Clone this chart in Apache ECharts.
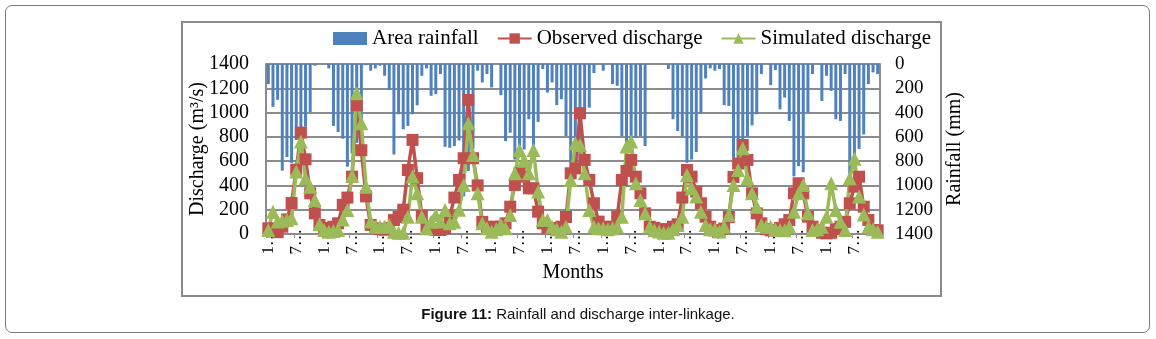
<!DOCTYPE html>
<html>
<head>
<meta charset="utf-8">
<title>Rainfall and discharge inter-linkage</title>
<script src="https://cdn.jsdelivr.net/npm/echarts@6/dist/echarts.min.js"></script>
<style>
	html, body { margin: 0; padding: 0; background: #fff; }
	body { width: 1156px; height: 339px; position: relative; overflow: hidden; }
	.outer { position: absolute; left: 5px; top: 5px; width: 1143px; height: 326px; border: 1.5px solid #7a7a7a; border-radius: 7px; }
	.frame { position: absolute; left: 181px; top: 21px; width: 757px; height: 272px; border: 2px solid #8a8a8a; }
	#chart { position: absolute; left: 0; top: 0; width: 1156px; height: 339px; }
	.caption { position: absolute; left: 0; width: 1156px; top: 305px; text-align: center; font-family: 'Liberation Sans', Arial, sans-serif; font-size: 15px; color: #111; }
</style>
</head>
<body>
<div class="outer"></div>
<div class="frame"></div>
<div id="chart"></div>
<div class="caption"><b>Figure 11:</b> Rainfall and discharge inter-linkage.</div>
<script>
	// monthly area rainfall (mm), 11 years
	var rainfall = [
		166, 353, 295, 878, 767, 814, 626, 600, 516, 395, 14, 0,
		0, 36, 510, 560, 615, 846, 737, 650, 560, 10, 55, 36,
		14, 97, 213, 745, 414, 538, 510, 414, 340, 97, 36, 262,
		248, 83, 682, 690, 676, 630, 1090, 880, 700, 55, 152, 83,
		193, 0, 257, 635, 566, 787, 760, 704, 455, 700, 477, 41,
		235, 152, 339, 290, 593, 814, 870, 820, 414, 360, 75, 0,
		55, 0, 166, 180, 593, 814, 731, 607, 593, 676, 0, 0,
		0, 0, 41, 455, 552, 593, 814, 787, 725, 406, 119, 36,
		55, 41, 339, 345, 773, 870, 820, 600, 505, 414, 83, 0,
		174, 50, 373, 276, 469, 925, 842, 891, 400, 83, 0, 304,
		97, 221, 455, 469, 83, 911, 850, 700, 580, 166, 69, 83
	];

	// observed discharge (m3/s)
	var observed = [
		47, 20, 15, 60, 120, 255, 530, 835, 615, 335, 170, 75,
		50, 40, 60, 88, 240, 300, 472, 1060, 690, 310, 75, 47,
		40, 35, 50, 115, 140, 200, 527, 775, 460, 150, 60, 40,
		35, 33, 47, 143, 300, 445, 624, 1104, 624, 400, 100, 60,
		47, 60, 60, 88, 225, 404, 500, 472, 376, 376, 184, 88,
		47, 47, 47, 60, 140, 500, 540, 995, 610, 445, 253, 102,
		60, 50, 60, 143, 445, 520, 610, 472, 335, 170, 60, 50,
		40, 30, 40, 60, 80, 300, 527, 472, 349, 253, 143, 60,
		30, 30, 45, 140, 470, 580, 733, 610, 335, 170, 88, 40,
		30, 30, 50, 80, 115, 335, 418, 335, 143, 60, 30, 10,
		5, 10, 40, 60, 100, 253, 390, 472, 225, 115, 33, 30
	];

	// simulated discharge (m3/s)
	var simulated = [
		33, 184, 102, 110, 115, 129, 514, 761, 459, 390, 280, 80,
		33, 19, 25, 33, 120, 198, 480, 1160, 912, 390, 102, 60,
		60, 60, 74, 19, 10, 10, 143, 473, 335, 143, 47, 100,
		157, 102, 198, 88, 100, 200, 404, 912, 651, 335, 88, 47,
		19, 40, 74, 47, 157, 500, 692, 610, 500, 692, 349, 115,
		115, 60, 40, 19, 60, 445, 747, 733, 500, 198, 60, 47,
		47, 40, 47, 60, 143, 720, 761, 418, 280, 170, 60, 30,
		20, 10, 10, 40, 74, 143, 486, 376, 308, 184, 74, 40,
		40, 20, 60, 157, 404, 527, 706, 459, 335, 225, 74, 60,
		60, 40, 33, 30, 60, 184, 335, 404, 170, 33, 40, 60,
		143, 418, 198, 100, 33, 459, 620, 308, 160, 60, 40, 19
	];

	var monthNames = [1, 2, 3, 4, 5, 6, 7, 8, 9, 10, 11, 12];
	var yearCount = 11;
	var months = [];
	for (var y = 0; y < yearCount; y++) {
		months = months.concat(monthNames);
	}

	var serif = "'Liberation Serif', 'Times New Roman', serif";
	var gridColor = '#8c8c8c';
	var plain = function(v){ return String(v); };

	var chart = echarts.init(document.getElementById('chart'));
	chart.setOption({
		animation: false,
		textStyle: { fontFamily: serif, color: '#000' },
		legend: {
			left: 328,
			top: 23,
			itemWidth: 34,
			itemHeight: 13,
			itemGap: 18,
			textStyle: { fontFamily: serif, fontSize: 21, color: '#000' },
			data: [
				{ name: 'Area rainfall', icon: 'rect' },
				{ name: 'Observed discharge' },
				{ name: 'Simulated discharge' }
			]
		},
		grid: { left: 266, right: 276, top: 64, bottom: 105 },
		xAxis: {
			type: 'category',
			data: months,
			boundaryGap: true,
			name: 'Months',
			nameLocation: 'middle',
			nameGap: 28,
			nameTextStyle: { fontFamily: serif, fontSize: 20, color: '#000' },
			axisLine: { lineStyle: { color: gridColor, width: 2 } },
			axisTick: { show: true, interval: 5, length: 4, lineStyle: { color: gridColor } },
			axisLabel: {
				interval: 5,
				rotate: 90,
				margin: -5,
				fontFamily: serif,
				fontSize: 17,
				color: '#000',
				formatter: function(v){ return v + '\u2026'; }
			}
		},
		yAxis: [
			{
				type: 'value',
				min: 0,
				max: 1400,
				interval: 200,
				position: 'left',
				name: 'Discharge (m\u00b3/s)',
				nameLocation: 'middle',
				nameRotate: 90,
				nameGap: 58,
				nameMoveOverlap: false,
				nameTextStyle: { fontFamily: serif, fontSize: 20, color: '#000' },
				axisLine: { show: true, lineStyle: { color: gridColor, width: 2 } },
				axisTick: { show: false },
				axisLabel: { margin: 17, fontFamily: serif, fontSize: 20, color: '#000', formatter: plain },
				splitLine: { show: true, lineStyle: { color: gridColor, width: 2 } }
			},
			{
				type: 'value',
				min: 0,
				max: 1400,
				interval: 200,
				inverse: true,
				position: 'right',
				name: 'Rainfall (mm)',
				nameLocation: 'middle',
				nameRotate: 90,
				nameGap: 65,
				nameMoveOverlap: false,
				nameTextStyle: { fontFamily: serif, fontSize: 20, color: '#000' },
				axisLine: { show: true, lineStyle: { color: gridColor, width: 2 } },
				axisTick: { show: false },
				axisLabel: { margin: 15, fontFamily: serif, fontSize: 19, color: '#000', formatter: plain },
				splitLine: { show: false }
			}
		],
		series: [
			{
				name: 'Area rainfall',
				type: 'bar',
				yAxisIndex: 1,
				data: rainfall,
				barWidth: 3,
				itemStyle: { color: '#4f81bd' }
			},
			{
				name: 'Observed discharge',
				type: 'line',
				yAxisIndex: 0,
				data: observed,
				symbol: 'rect',
				symbolSize: 12,
				showAllSymbol: true,
				lineStyle: { color: '#c0504d', width: 3.5 },
				itemStyle: { color: '#c0504d' }
			},
			{
				name: 'Simulated discharge',
				type: 'line',
				yAxisIndex: 0,
				data: simulated,
				symbol: 'triangle',
				symbolSize: 14,
				showAllSymbol: true,
				lineStyle: { color: '#9bbb59', width: 3.5 },
				itemStyle: { color: '#9bbb59' }
			}
		]
	});
</script>
</body>
</html>
